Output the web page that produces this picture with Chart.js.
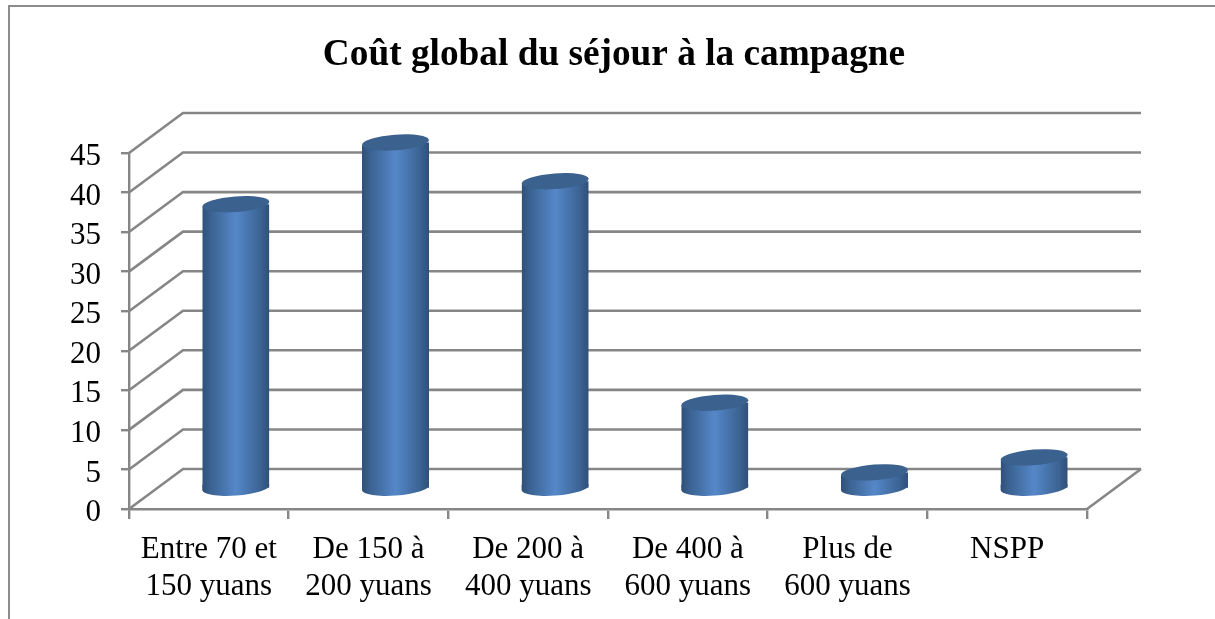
<!DOCTYPE html>
<html>
<head>
<meta charset="utf-8">
<style>html,body{margin:0;padding:0;background:#fff}#w{position:relative;width:1215px;height:619px}canvas{display:block}</style>
<script src="https://cdn.jsdelivr.net/npm/chart.js@4/dist/chart.umd.min.js"></script>
</head>
<body>
<div id="w"><canvas id="c" width="1215" height="619"></canvas></div>
<script>
const chartTitle = 'Coût global du séjour à la campagne';
const categories = [
  ['Entre 70 et', '150 yuans'],
  ['De 150 à', '200 yuans'],
  ['De 200 à', '400 yuans'],
  ['De 400 à', '600 yuans'],
  ['Plus de', '600 yuans'],
  ['NSPP']
];
const costValues = [36, 43.8, 38.9, 10.9, 2.1, 4];
const axisMax = 45;
const axisStep = 5;

const FONT = '"Liberation Serif"';
const LINE = '#868686';
const DEPTH_X = 54, DEPTH_Y = 40;     // oblique depth of the back wall
const BAR_DX = 27, BAR_DY = 20;       // bars stand half way into the depth
const RY = 7.8, TILT = 0.075;

function barGradient(ctx, x, w) {
  const g = ctx.createLinearGradient(x - w / 2, 0, x + w / 2, 0);
  g.addColorStop(0, '#2f5079');
  g.addColorStop(0.14, '#3c6494');
  g.addColorStop(0.5, '#5587c9');
  g.addColorStop(0.86, '#3c6494');
  g.addColorStop(1, '#2f5079');
  return g;
}

const wall3d = {
  id: 'wall3d',
  beforeDraw(chart) {
    const c = chart.ctx;
    c.save();
    c.strokeStyle = '#8c8c8c';
    c.lineWidth = 2;
    c.beginPath();
    c.moveTo(9, 630);
    c.lineTo(9, 6);
    c.lineTo(1225, 6);
    c.stroke();
    c.restore();
  },
  beforeDatasetsDraw(chart) {
    const c = chart.ctx, y = chart.scales.y, a = chart.chartArea;
    c.save();
    c.strokeStyle = LINE;
    c.lineWidth = 2.6;
    y.ticks.forEach(t => {
      const py = y.getPixelForValue(t.value);
      c.beginPath();
      c.moveTo(a.left, py);
      c.lineTo(a.left + DEPTH_X, py - DEPTH_Y);
      c.lineTo(a.right + DEPTH_X, py - DEPTH_Y);
      c.stroke();
    });
    const p0 = y.getPixelForValue(0);
    c.beginPath();
    c.moveTo(a.right, p0);
    c.lineTo(a.right + DEPTH_X, p0 - DEPTH_Y);
    c.stroke();
    c.restore();

    // bars are shifted into the depth, cut to a cylinder outline
    const bars = chart.getDatasetMeta(0).data;
    c.save();
    c.translate(BAR_DX, -BAR_DY);
    bars.forEach(b => {
      const rx = b.width / 2, tip = rx * TILT;
      c.fillStyle = barGradient(c, b.x, b.width);
      c.beginPath();
      c.moveTo(b.x - rx, b.base - 3);
      c.lineTo(b.x + rx, b.base - 3);
      c.lineTo(b.x + rx, b.base - tip);
      c.lineTo(b.x - rx, b.base + tip);
      c.closePath();
      c.fill();
      c.beginPath();
      c.ellipse(b.x, b.base, rx, RY, -Math.atan(TILT), 0, Math.PI * 2);
      c.fill();
    });
    c.beginPath();
    bars.forEach(b => {
      const rx = b.width / 2, tip = rx * TILT;
      c.moveTo(b.x - rx, b.base + 1);
      c.lineTo(b.x - rx, b.y + tip);
      c.lineTo(b.x + rx, b.y - tip);
      c.lineTo(b.x + rx, b.base + 1);
      c.closePath();
    });
    c.clip();
  },
  afterDatasetsDraw(chart) {
    const c = chart.ctx;
    c.restore();
    c.save();
    c.translate(BAR_DX, -BAR_DY);
    c.fillStyle = '#3b618f';
    chart.getDatasetMeta(0).data.forEach(b => {
      c.beginPath();
      c.ellipse(b.x, b.y, b.width / 2, RY, -Math.atan(TILT), 0, Math.PI * 2);
      c.fill();
    });
    c.restore();
  }
};

new Chart(document.getElementById('c'), {
  type: 'bar',
  plugins: [wall3d],
  data: {
    labels: categories,
    datasets: [{
      data: costValues,
      clip: false,
      borderWidth: 0,
      categoryPercentage: 1,
      barPercentage: 0.42,
      backgroundColor(ctx) {
        const x = ctx.chart.scales.x;
        if (ctx.dataIndex === undefined || !x || !x.width) return '#4f81bd';
        const w = x.width / categories.length * 0.42;
        const px = x.getPixelForValue(ctx.dataIndex);
        if (!isFinite(px)) return '#4f81bd';
        return barGradient(ctx.chart.ctx, px, w);
      }
    }]
  },
  options: {
    responsive: false,
    animation: false,
    events: [],
    layout: { padding: { left: 13, right: 0, top: 0, bottom: 0 } },
    plugins: {
      legend: { display: false },
      tooltip: { enabled: false },
      title: {
        display: true,
        text: chartTitle,
        color: '#000',
        font: { family: FONT, size: 37.3, weight: 'bold', lineHeight: 1.2 },
        padding: { top: 33, bottom: 75.2 }
      }
    },
    scales: {
      x: {
        afterFit(s) { s.height = 110; },
        border: { color: LINE, width: 2.6 },
        grid: { display: true, drawOnChartArea: false, color: LINE, lineWidth: 2.4, tickLength: 10, offset: true },
        ticks: {
          color: '#000', padding: 12, maxRotation: 0, autoSkip: false,
          font: { family: FONT, size: 31, lineHeight: 1.2 }
        }
      },
      y: {
        min: 0, max: axisMax,
        afterFit(s) { s.width = 116; },
        border: { color: LINE, width: 2.4 },
        grid: { display: true, drawOnChartArea: false, color: LINE, lineWidth: 2.4, tickLength: 8 },
        ticks: {
          stepSize: axisStep, color: '#000', padding: 20, autoSkip: false, labelOffset: 4,
          font: { family: FONT, size: 31 }
        }
      },
      pad: {
        position: 'right',
        afterFit(s) { s.width = 128; },
        border: { display: false },
        grid: { display: false, drawTicks: false },
        ticks: { display: false }
      }
    }
  }
});
</script>
</body>
</html>
